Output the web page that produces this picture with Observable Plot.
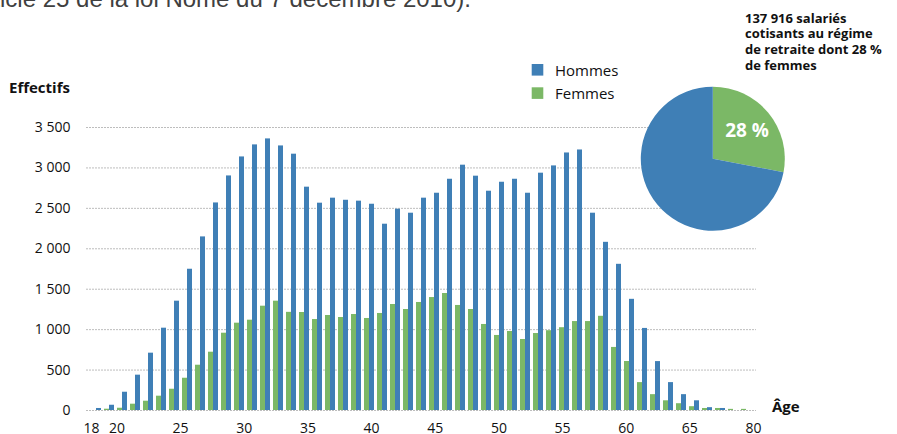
<!DOCTYPE html>
<html><head><meta charset="utf-8">
<script src="https://cdn.jsdelivr.net/npm/d3@7"></script>
<script src="https://cdn.jsdelivr.net/npm/@observablehq/plot@0.6"></script>
<style>
html,body{margin:0;padding:0;background:#fff;}
#chart{position:relative;width:897px;height:434px;overflow:hidden;font-family:"Open Sans",sans-serif;color:#111;}
#chart > svg, #chart > figure{position:absolute;left:0;top:0;margin:0;}
</style></head><body><div id="chart"></div>
<script>
// ---- data ----
const ages = [18,19,20,21,22,23,24,25,26,27,28,29,30,31,32,33,34,35,36,37,38,39,40,41,42,43,44,45,46,47,48,49,50,51,52,53,54,55,56,57,58,59,60,61,62,63,64,65,66,67,68];
const hommes = [25,65,226,437,709,1018,1352,1747,2147,2567,2901,3136,3285,3359,3272,3170,2762,2564,2626,2600,2589,2551,2304,2490,2440,2626,2687,2860,3034,2898,2712,2823,2860,2687,2935,3025,3185,3222,2440,2080,1808,1375,1015,605,345,196,120,35,25,0,0];
const femmes = [0,16,28,78,115,177,263,399,560,721,956,1080,1117,1290,1352,1214,1212,1125,1175,1150,1187,1138,1200,1311,1249,1336,1397,1447,1299,1249,1064,928,977,878,952,987,1024,1100,1100,1165,780,606,345,196,120,84,47,25,25,14,14];
const yTicks = [0,500,1000,1500,2000,2500,3000,3500];
const xTickValues = [18,20,25,30,35,40,45,50,55,60,65,70];
const xTickLabels = ["18","20","25","30","35","40","45","50","55","60","65","80"];
const pieLabels = ["Femmes","Hommes"];
const pieShares = [28,72];
const titleLines = ["137 916 salariés","cotisants au régime","de retraite dont 28 %","de femmes"];
const topText = "(article 25 de la loi Nome du 7 décembre 2010).";

const BLUE = "#3f7fb6", GREEN = "#7bb866";

const rows = ages.map((a,i)=>({age:a, hommes:hommes[i], femmes:femmes[i]}));
const xTickData = xTickValues.map((v,i)=>({pos:v, label:xTickLabels[i]}));
const loc = d3.formatLocale({decimal:",", thousands:"\u00a0", grouping:[3], currency:["","€"]});
const fmt = loc.format(",");

const chart = document.getElementById("chart");

// main bars
const main = Plot.plot({
  width: 897, height: 434,
  marginLeft: 86, marginRight: 141, marginTop: 127, marginBottom: 24,
  style: {fontFamily: "'Open Sans', sans-serif", fontSize: "14px", color: "#111", background: "transparent"},
  x: {type: "band", domain: ages, paddingInner: 0.242, paddingOuter: 0, axis: null},
  y: {domain: [0, 3500], ticks: yTicks, tickFormat: fmt, tickSize: 0, tickPadding: 16, label: null},
  marks: [
    Plot.ruleY(yTicks, {stroke: "#bdbdbd", strokeDasharray: "2,1"}),
    Plot.barY(rows, {x: "age", y: "femmes", fill: GREEN, insetRight: 5}),
    Plot.barY(rows, {x: "age", y: "hommes", fill: BLUE, insetLeft: 5})
  ]
});
chart.appendChild(main);

// x label row (separate linear scale)
const xrow = Plot.plot({
  width: 897, height: 20, marginTop: 0, marginBottom: 0, marginLeft: 0, marginRight: 0,
  style: {fontFamily: "'Open Sans', sans-serif", background: "transparent", overflow: "visible"},
  x: {domain: [18, 70], range: [91, 753], axis: null},
  marks: [Plot.text(xTickData, {x: "pos", text: "label", fontSize: 14, fill: "#111"})]
});
xrow.style.top = "418px";
chart.appendChild(xrow);

// pie
const R = 72, cx = 712.8, cy = 158.7;
const pieSvg = d3.create("svg").attr("width", 897).attr("height", 434)
  .style("position","absolute").style("left","0").style("top","0");
const pieData = pieLabels.map((l,i)=>({label:l, value:pieShares[i]}));
const arcs = d3.pie().sort(null).value(d=>d.value)(pieData);
const arc = d3.arc().innerRadius(0).outerRadius(R);
const labelArc = d3.arc().innerRadius(44.5).outerRadius(44.5);
const g = pieSvg.append("g").attr("transform", `translate(${cx},${cy})`);
g.selectAll("path").data(arcs).join("path")
  .attr("d", arc).attr("fill", d => d.data.label === "Femmes" ? GREEN : BLUE);
const fArc = arcs[0];
const c = labelArc.centroid(fArc);
g.append("text").attr("x", c[0]).attr("y", c[1]).attr("text-anchor","middle").attr("dy","0.35em")
  .attr("fill","#fff").attr("font-family","'Open Sans', sans-serif").attr("font-weight","700").attr("font-size",19)
  .text(fArc.data.value + "\u00a0%");

// texts
const t = pieSvg.append("g").attr("font-family","'Open Sans', sans-serif").attr("fill","#111");
t.append("text").attr("x",-36).attr("y",6.5).attr("font-family","'Liberation Sans', Arial, sans-serif")
  .attr("font-size",24).attr("fill","#404040").text(topText);
t.append("text").attr("x",9).attr("y",92.5).attr("font-weight","700").attr("font-size",15).text("Effectifs");
t.append("text").attr("x",772).attr("y",411.5).attr("font-weight","700").attr("font-size",15).text("Âge");
// legend
[["Hommes",BLUE,64],["Femmes",GREEN,87.3]].forEach(([lab,col,y])=>{
  t.append("rect").attr("x",531.7).attr("y",y).attr("width",11.6).attr("height",11.6).attr("fill",col);
  t.append("text").attr("x",555).attr("y",y+11.5).attr("font-size",15).text(lab);
});
// pie title
titleLines.forEach((s,i)=>{
  t.append("text").attr("x",745).attr("y",22.7+i*15.7).attr("font-weight","700").attr("font-size",13).text(s);
});
chart.appendChild(pieSvg.node());
</script></body></html>
